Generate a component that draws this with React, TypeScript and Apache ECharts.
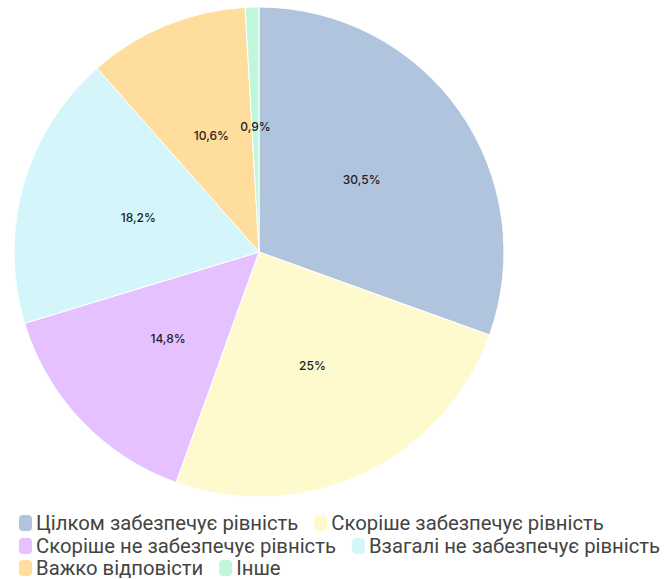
import React, { useEffect, useRef } from "react";
import * as echarts from "echarts";

const categories = [
  "Цілком забезпечує рівність",
  "Скоріше забезпечує рівність",
  "Скоріше не забезпечує рівність",
  "Взагалі не забезпечує рівність",
  "Важко відповісти",
  "Інше",
];
const values = [30.5, 25, 14.8, 18.2, 10.6, 0.9];
const colors = ["#b0c4de", "#fffacd", "#e6c1ff", "#d4f6fa", "#ffdd9d", "#c0f7dc"];
const legendRows = [
  [0, 1],
  [2, 3],
  [4, 5],
];

const icon =
  "path://M5,0 H10 A5,5 0 0 1 15,5 V13 A5,5 0 0 1 10,18 H5 A5,5 0 0 1 0,13 V5 A5,5 0 0 1 5,0 Z";

export default function App() {
  const ref = useRef<HTMLDivElement>(null);
  useEffect(() => {
    if (!ref.current) return;
    const chart = echarts.init(ref.current, null, { renderer: "svg" });
    const rowTops = [513, 536, 558];
    chart.setOption({
      animation: false,
      legend: legendRows.map((row, i) => ({
        data: row.map((k) => categories[k]),
        left: 17,
        top: rowTops[i],
        padding: 0,
        itemGap: 14,
        itemWidth: 15,
        itemHeight: 18,
        icon,
        textStyle: {
          fontFamily: "Roboto",
          fontSize: 20.3,
          lineHeight: 18,
          color: "#444",
          padding: [0, 0, 0, -2],
        },
      })),
      series: [
        {
          type: "pie",
          center: [259, 252],
          radius: [0, 245],
          startAngle: 90,
          clockwise: true,
          avoidLabelOverlap: false,
          itemStyle: { borderColor: "#fff", borderWidth: 1 },
          label: {
            show: true,
            position: "inner",
            formatter: (p: any) => String(p.value).replace(".", ",") + "%",
            fontFamily: "Inter",
            fontSize: 12,
            fontWeight: 500,
            color: "#222",
          },
          labelLine: { show: false },
          emphasis: { disabled: true },
          data: categories.map((name, i) => ({
            name,
            value: values[i],
            itemStyle: { color: colors[i] },
          })),
        },
      ],
    });
    return () => chart.dispose();
  }, []);
  return (
    <div
      ref={ref}
      style={{ position: "absolute", left: 0, top: 0, width: 670, height: 579 }}
    />
  );
}
